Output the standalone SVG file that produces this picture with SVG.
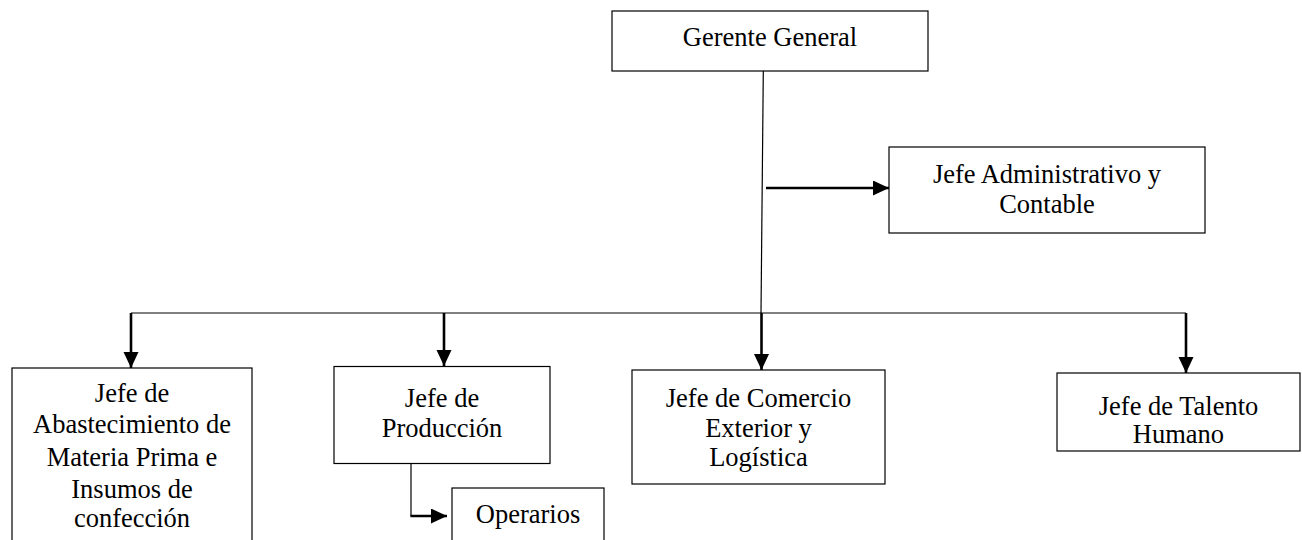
<svg xmlns="http://www.w3.org/2000/svg" width="1302" height="540" viewBox="0 0 1302 540">
  <style>
    .box { fill: #ffffff; stroke: #000000; stroke-width: 1.2; }
    .lbl { font-family: "Liberation Serif", "Times New Roman", serif; font-size: 26.5px; fill: #000000; text-anchor: middle; }
    .thin { fill: none; stroke: #000000; stroke-width: 1.2; }
    .thick { fill: none; stroke: #000000; stroke-width: 2.6; }
  </style>
  <defs>
    <marker id="arrow" markerUnits="userSpaceOnUse" markerWidth="16" markerHeight="16" refX="16" refY="7.5" orient="auto">
      <path d="M0,0 L16,7.5 L0,15 Z" fill="#000000"/>
    </marker>
  </defs>
  <rect width="1302" height="540" fill="#ffffff"/>

  <!-- connectors -->
  <g id="connectors">
    <!-- trunk from the general manager down to the bus -->
    <path class="thin" d="M763.3,71 L761,313"/>
    <!-- branch to administration -->
    <path class="thick" d="M766,188 L889,188" marker-end="url(#arrow)"/>
    <!-- horizontal bus -->
    <path class="thin" d="M131,313 L1186,313"/>
    <!-- drops to each department -->
    <path class="thick" d="M131,313 L131,368" marker-end="url(#arrow)"/>
    <path class="thick" d="M444,313 L444,366" marker-end="url(#arrow)"/>
    <path class="thick" d="M761.5,313 L761.5,370" marker-end="url(#arrow)"/>
    <path class="thick" d="M1186,313 L1186,373" marker-end="url(#arrow)"/>
    <!-- production to operators -->
    <path class="thin" d="M411,463 L411,516"/>
    <path class="thick" d="M410.4,516 L447,516" marker-end="url(#arrow)"/>
  </g>

  <g id="gerente-general">
    <rect class="box" x="612" y="11" width="316" height="60"/>
    <text class="lbl" x="770" y="46">Gerente General</text>
  </g>

  <g id="jefe-administrativo">
    <rect class="box" x="889" y="147" width="316" height="86"/>
    <text class="lbl" x="1047" y="183">Jefe Administrativo y</text>
    <text class="lbl" x="1047" y="213">Contable</text>
  </g>

  <g id="jefe-abastecimiento">
    <rect class="box" x="12" y="368" width="240" height="180"/>
    <text class="lbl" x="132" y="402">Jefe de</text>
    <text class="lbl" x="132" y="433">Abastecimiento de</text>
    <text class="lbl" x="132" y="466">Materia Prima e</text>
    <text class="lbl" x="132" y="498">Insumos de</text>
    <text class="lbl" x="132" y="527">confección</text>
  </g>

  <g id="jefe-produccion">
    <rect class="box" x="334" y="366.5" width="216" height="97"/>
    <text class="lbl" x="442" y="407">Jefe de</text>
    <text class="lbl" x="442" y="437">Producción</text>
  </g>

  <g id="operarios">
    <rect class="box" x="452" y="488" width="152" height="60"/>
    <text class="lbl" x="528" y="523">Operarios</text>
  </g>

  <g id="jefe-comercio">
    <rect class="box" x="632" y="370" width="253" height="114"/>
    <text class="lbl" x="758.5" y="407">Jefe de Comercio</text>
    <text class="lbl" x="758.5" y="437">Exterior y</text>
    <text class="lbl" x="758.5" y="466">Logística</text>
  </g>

  <g id="jefe-talento">
    <rect class="box" x="1057" y="373" width="243" height="78"/>
    <text class="lbl" x="1178.5" y="415">Jefe de Talento</text>
    <text class="lbl" x="1178.5" y="443">Humano</text>
  </g>
</svg>
